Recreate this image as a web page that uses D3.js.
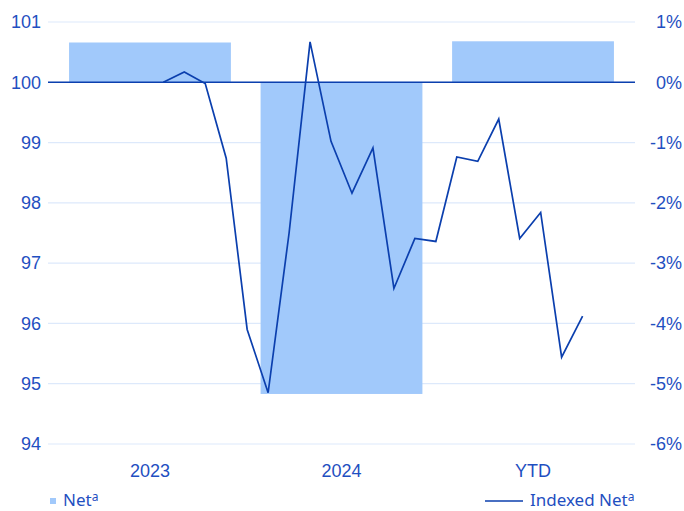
<!DOCTYPE html>
<html lang="en">
<head>
  <meta charset="utf-8">
  <script src="https://d3js.org/d3.v7.min.js"></script>
  <style>
    body { margin: 0; background: #fff; font-family: 'Noto Sans', 'Open Sans', sans-serif; }
    .tick text { fill: #1f4fc1; font-size: 18px; }
    .legend text { fill: #1f4fc1; font-size: 17px; }
  </style>
</head>
<body>
  <svg id="chart" width="684" height="511"></svg>
  <script>
    // data
    const categories = ["2023", "2024", "YTD"];
    const netPct = [0.66, -5.17, 0.68];
    const indexed = [100.00, 100.17, 99.98, 98.74, 95.90, 94.85, 97.50, 100.67, 99.02, 98.16,
                     98.91, 96.58, 97.41, 97.36, 98.76, 98.69, 99.39, 97.41, 97.84, 95.44, 96.12];
    const leftTicks = [94, 95, 96, 97, 98, 99, 100, 101];
    const rightTicks = [-6, -5, -4, -3, -2, -1, 0, 1];

    const plotLeft = 48, plotRight = 635, plotTop = 22, plotBottom = 444;
    const lineColor = "#0b3fae", barColor = "#a1c9fb", gridColor = "#dde9fb";

    const svg = d3.select("#chart");

    const x = d3.scaleBand().domain(categories).range([plotLeft, plotRight])
                .paddingInner(0.155).paddingOuter(0.11);
    // month index for the line, from -5.5 to 22.5 across the plot
    const xm = d3.scaleLinear().domain([-5.5, 22.5]).range([plotLeft, plotRight]);
    const yL = d3.scaleLinear().domain([94, 101]).range([plotBottom, plotTop]);
    const yR = d3.scaleLinear().domain([-6, 1]).range([plotBottom, plotTop]);

    // gridlines
    svg.append("g").selectAll("line")
       .data(leftTicks)
       .join("line")
       .attr("x1", plotLeft).attr("x2", plotRight)
       .attr("y1", d => yL(d)).attr("y2", d => yL(d))
       .attr("stroke", gridColor).attr("stroke-width", 1.2);

    // bars
    svg.append("g").selectAll("rect")
       .data(netPct)
       .join("rect")
       .attr("x", (d, i) => x(categories[i]))
       .attr("width", x.bandwidth())
       .attr("y", d => yR(Math.max(0, d)))
       .attr("height", d => Math.abs(yR(d) - yR(0)))
       .attr("fill", barColor);

    // zero line
    svg.append("line")
       .attr("x1", plotLeft).attr("x2", plotRight)
       .attr("y1", yR(0)).attr("y2", yR(0))
       .attr("stroke", lineColor).attr("stroke-width", 1.4);

    // indexed line
    svg.append("path")
       .datum(indexed)
       .attr("fill", "none")
       .attr("stroke", lineColor)
       .attr("stroke-width", 1.7)
       .attr("d", d3.line().x((d, i) => xm(i)).y(d => yL(d)));

    // axes
    const axL = svg.append("g")
       .attr("transform", `translate(${plotLeft - 7},0)`)
       .call(d3.axisLeft(yL).tickValues(leftTicks).tickSize(0).tickPadding(0)
             .tickFormat(d3.format("d")));
    axL.select(".domain").remove();

    const axR = svg.append("g")
       .attr("transform", `translate(682,0)`)
       .call(d3.axisLeft(yR).tickValues(rightTicks).tickSize(0).tickPadding(0)
             .tickFormat(d => d + "%"));
    axR.select(".domain").remove();

    const axB = svg.append("g")
       .attr("transform", `translate(0,${plotBottom + 10})`)
       .call(d3.axisBottom(x).tickSize(0).tickPadding(0));
    axB.select(".domain").remove();
    axB.selectAll("text").attr("dy", "1.27em");

    // legend
    const lg = svg.append("g").attr("class", "legend");
    lg.append("rect").attr("x", 50).attr("y", 498).attr("width", 6).attr("height", 6).attr("fill", barColor);
    const t1 = lg.append("text").attr("x", 63).attr("y", 506);
    t1.append("tspan").text("Net");
    t1.append("tspan").attr("font-size", "12px").attr("dy", "-0.45em").text("a");

    lg.append("line").attr("x1", 485).attr("x2", 523).attr("y1", 501).attr("y2", 501)
      .attr("stroke", lineColor).attr("stroke-width", 1.6);
    const t2 = lg.append("text").attr("x", 530).attr("y", 506);
    t2.append("tspan").text("Indexed Net");
    t2.append("tspan").attr("font-size", "12px").attr("dy", "-0.45em").text("a");
  </script>
</body>
</html>
